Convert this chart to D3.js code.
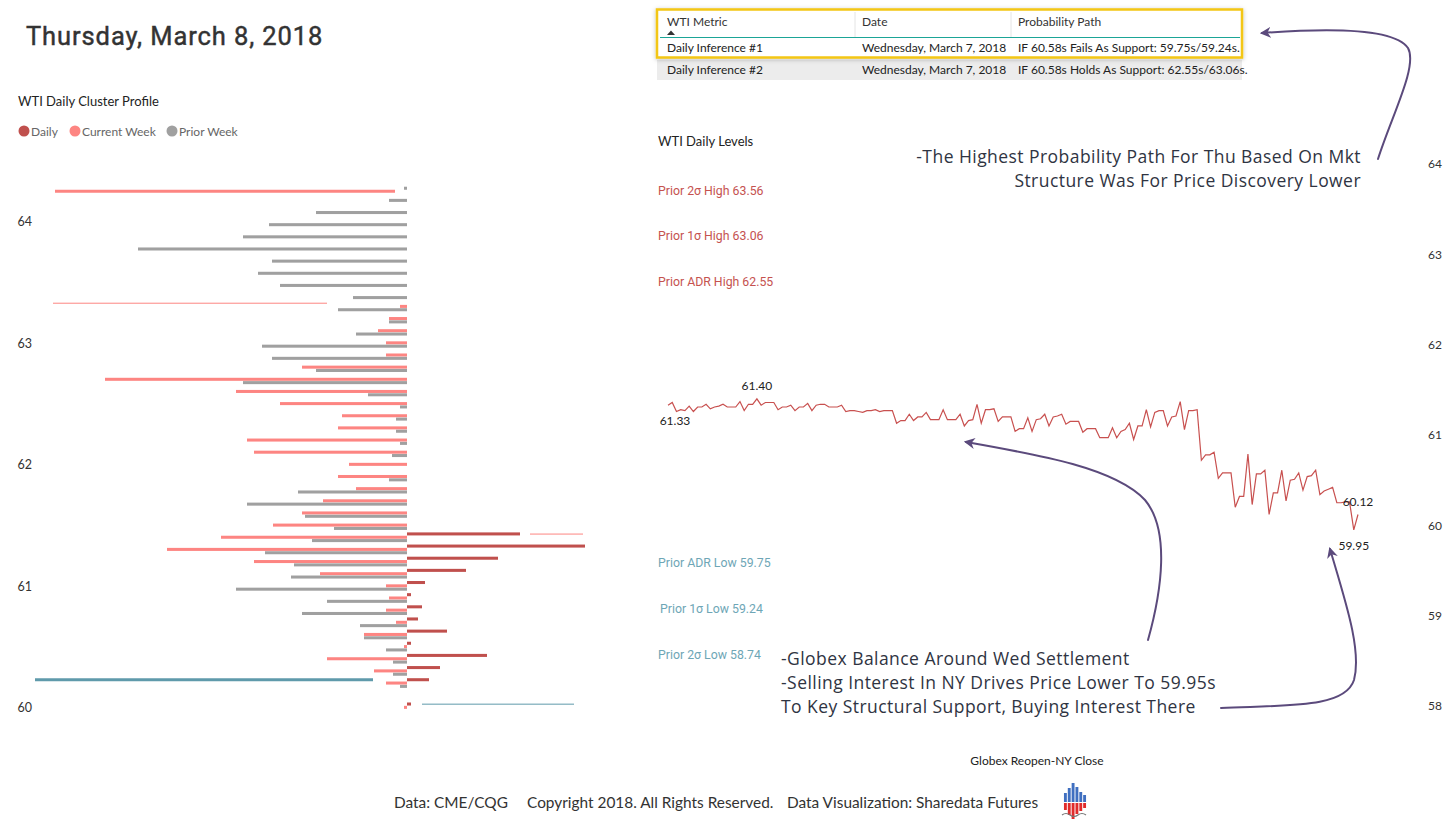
<!DOCTYPE html>
<html>
<head>
<meta charset="utf-8">
<script src="https://cdn.jsdelivr.net/npm/d3@7"></script>
<style>
  body { margin: 0; background: #fff; }
  svg text { font-family: Lato, "Noto Sans", sans-serif; }
  .din { font-family: Roboto, "DejaVu Sans", sans-serif; }
  .note { font-family: "Open Sans", "DejaVu Sans", sans-serif; }
</style>
</head>
<body>
<svg id="chart" width="1456" height="826"></svg>
<script>
// ---- Cluster profile (price rows, volumes in arbitrary units) ----
var profileLevels = [64.3, 64.2, 64.1, 64.0, 63.9, 63.8, 63.7, 63.6, 63.5, 63.4, 63.3,
  63.2, 63.1, 63.0, 62.9, 62.8, 62.7, 62.6, 62.5, 62.4, 62.3, 62.2, 62.1, 62.0,
  61.9, 61.8, 61.7, 61.6, 61.5, 61.4, 61.3, 61.2, 61.1, 61.0, 60.9, 60.8, 60.7,
  60.6, 60.5, 60.4, 60.3, 60.2, 60.1, 60.0]
var dailyVol = [0, 0, 0, 0, 0, 0, 0, 0, 0, 0, 0,
  0, 0, 0, 0, 0, 0, 0, 0, 0, 0, 0, 0, 0,
  0, 0, 0, 0, 0, 113, 178, 91, 59, 18, 4, 15, 11,
  40, 4, 80, 33, 22, 0, 4]
var currentWeekVol = [0, 0, 0, 0, 0, 0, 0, 0, 0, 0, 7,
  18, 29, 21, 21, 105, 302, 171, 127, 65, 69, 160, 153, 58,
  69, 51, 84, 105, 134, 186, 240, 153, 87, 21, 18, 21, 11,
  43, 3, 80, 33, 21, 0, 3]
var priorWeekVol = [3, 18, 91, 138, 164, 269, 135, 149, 127, 54, 69,
  18, 51, 145, 135, 91, 164, 39, 7, 11, 11, 7, 15, 0,
  18, 109, 160, 102, 73, 95, 142, 113, 116, 171, 80, 105, 47,
  43, 21, 14, 14, 7, 0, 0]
var profileTicks = [60, 61, 62, 63, 64]
var seriesKeys = ["daily", "current", "prior"]
var seriesNames = ["Daily", "Current Week", "Prior Week"]

// reference marks drawn on the profile (price row, slot, from, to)
var markerPrice = [64.25, 63.3, 60.2, 60.0, 61.4]
var markerSlot = ["current", "daily", "daily", "daily", "daily"]
var markerFrom = [-352, -354, -372, 15, 123]
var markerTo = [-12, -80, -34, 167, 176]
var markerKind = ["current", "current", "blue", "blue", "current"]
var markerWidth = [3, 1, 3, 1, 1]

// ---- Daily levels ----
var levelNames = ["Prior 2σ High", "Prior 1σ High", "Prior ADR High",
  "Prior ADR Low", "Prior 1σ Low", "Prior 2σ Low"]
var levelValues = [63.56, 63.06, 62.55, 59.75, 59.24, 58.74]
var priceTicks = [58, 59, 60, 61, 62, 63, 64]

// ---- Globex reopen - NY close price path ----
var wtiPrices = [61.33, 61.36, 61.26, 61.28, 61.27, 61.32, 61.26, 61.31, 61.31, 61.34,
  61.29, 61.31, 61.32, 61.34, 61.31, 61.31, 61.31, 61.37, 61.27, 61.34,
  61.34, 61.40, 61.33, 61.36, 61.36, 61.36, 61.28, 61.31, 61.31, 61.33,
  61.27, 61.31, 61.31, 61.35, 61.27, 61.33, 61.34, 61.34, 61.31, 61.31,
  61.31, 61.33, 61.26, 61.27, 61.27, 61.26, 61.25, 61.27, 61.27, 61.28,
  61.26, 61.27, 61.27, 61.27, 61.13, 61.16, 61.16, 61.23, 61.16, 61.20,
  61.20, 61.25, 61.17, 61.17, 61.17, 61.28, 61.17, 61.17, 61.17, 61.23,
  61.10, 61.16, 61.17, 61.34, 61.13, 61.28, 61.28, 61.29, 61.15, 61.20,
  61.20, 61.20, 61.04, 61.07, 61.07, 61.19, 61.04, 61.17, 61.18, 61.23,
  61.10, 61.20, 61.21, 61.23, 61.12, 61.15, 61.15, 61.15, 61.03, 61.07,
  61.07, 61.07, 60.97, 60.97, 60.97, 61.08, 60.97, 61.04, 61.06, 61.13,
  60.95, 61.10, 61.10, 61.28, 61.09, 61.25, 61.27, 61.27, 61.10, 61.20,
  61.21, 61.37, 61.06, 61.27, 61.27, 61.28, 60.72, 60.78, 60.78, 60.81,
  60.52, 60.58, 60.58, 60.58, 60.20, 60.32, 60.32, 60.79, 60.23, 60.57,
  60.57, 60.61, 60.12, 60.36, 60.36, 60.61, 60.27, 60.50, 60.51, 60.58,
  60.39, 60.54, 60.55, 60.61, 60.34, 60.38, 60.40, 60.42, 60.25, 60.25,
  60.26, 60.26, 59.95, 60.12]

// ---- Table ----
var tableColumns = ["WTI Metric", "Date", "Probability Path"]
var tableRows = [
  ["Daily Inference #1", "Wednesday, March 7, 2018", "IF 60.58s Fails As Support: 59.75s/59.24s."],
  ["Daily Inference #2", "Wednesday, March 7, 2018", "IF 60.58s Holds As Support: 62.55s/63.06s."]
]

// ---- Notes ----
var topNote = ["-The Highest Probability Path For Thu Based On Mkt",
  "Structure Was For Price Discovery Lower"]
var bottomNote = ["-Globex Balance Around Wed Settlement",
  "-Selling Interest In NY Drives Price Lower To 59.95s",
  "To Key Structural Support, Buying Interest There"]
var footerItems = ["Data: CME/CQG", "Copyright 2018. All Rights Reserved.",
  "Data Visualization: Sharedata Futures"]
var logoBlue = [9, 14, 19, 15, 10, 7]
var logoRed = [7, 12, 16, 11, 8, 5]

var svg = d3.select("#chart")

var color = d3.scaleOrdinal()
  .domain(seriesKeys.concat(["blue"]))
  .range(["#c0504d", "#fd8582", "#a0a0a0", "#5f9aab"])

// Title
svg.append("text")
  .attr("class", "din")
  .attr("x", 26).attr("y", 45)
  .attr("font-size", 25.5)
  .attr("fill", "#333")
  .attr("stroke", "#333").attr("stroke-width", 0.45)
  .attr("letter-spacing", 0.9)
  .text("Thursday, March 8, 2018")

// ================= Cluster profile =================
svg.append("text")
  .attr("x", 18).attr("y", 106)
  .attr("font-size", 13).attr("fill", "#222")
  .text("WTI Daily Cluster Profile")

var legend = svg.append("g").attr("transform", "translate(18,131)")
var legX = [0, 51, 148]
seriesKeys.forEach(function (k, i) {
  var g = legend.append("g").attr("transform", "translate(" + legX[i] + ",0)")
  g.append("circle").attr("cx", 6).attr("cy", 0).attr("r", 5.5).attr("fill", color(k))
  g.append("text").attr("x", 13).attr("y", 4.5)
    .attr("font-size", 12).attr("fill", "#666").text(seriesNames[i])
})

var xP = d3.scaleLinear().domain([-400, 200]).range([7, 607])
var yP = d3.scaleLinear().domain([60, 64]).range([707.5, 221.5])
var slot = d3.scaleBand().domain(seriesKeys).range([-5, 5])

var bars = []
profileLevels.forEach(function (p, i) {
  bars.push({ price: p, key: "daily", value: dailyVol[i] })
  bars.push({ price: p, key: "current", value: -currentWeekVol[i] })
  bars.push({ price: p, key: "prior", value: -priorWeekVol[i] })
})

svg.append("g").selectAll("rect")
  .data(bars.filter(function (d) { return d.value !== 0 }))
  .enter()
  .append("rect")
  .attr("x", function (d) { return xP(Math.min(0, d.value)) })
  .attr("width", function (d) { return Math.abs(xP(d.value) - xP(0)) })
  .attr("y", function (d) { return yP(d.price) + slot(d.key) })
  .attr("height", slot.bandwidth() - 0.3)
  .attr("fill", function (d) { return color(d.key) })

// reference marks
var marks = markerPrice.map(function (p, i) {
  return { price: p, slot: markerSlot[i], from: markerFrom[i], to: markerTo[i],
    kind: markerKind[i], w: markerWidth[i] }
})
svg.append("g").selectAll("line")
  .data(marks)
  .enter()
  .append("line")
  .attr("x1", function (d) { return xP(d.from) })
  .attr("x2", function (d) { return xP(d.to) })
  .attr("y1", function (d) { return yP(d.price) + slot(d.slot) + slot.bandwidth() / 2 })
  .attr("y2", function (d) { return yP(d.price) + slot(d.slot) + slot.bandwidth() / 2 })
  .attr("stroke", function (d) { return color(d.kind) })
  .attr("stroke-width", function (d) { return d.w })

var leftAxis = svg.append("g")
  .attr("transform", "translate(32,0)")
  .call(d3.axisLeft(yP).tickValues(profileTicks).tickFormat(d3.format("d")).tickSize(0).tickPadding(0))
leftAxis.select(".domain").remove()
leftAxis.selectAll("text").attr("font-size", 12.5).attr("fill", "#333")
  .attr("font-family", "Lato, sans-serif")

// ================= Table =================
var colX = [660, 855, 1011, 1241]
var table = svg.append("g")

var defs = svg.append("defs")
var shadow = defs.append("filter").attr("id", "shadow")
  .attr("x", "-5%").attr("y", "-20%").attr("width", "110%").attr("height", "150%")
shadow.append("feDropShadow").attr("dx", 0).attr("dy", 1).attr("stdDeviation", 2)
  .attr("flood-color", "#000").attr("flood-opacity", 0.25)

table.append("rect")
  .attr("x", 657).attr("y", 60).attr("width", 585).attr("height", 20)
  .attr("fill", "#ececec")
table.append("rect")
  .attr("x", 657).attr("y", 9.5).attr("width", 585).attr("height", 48)
  .attr("fill", "#fff").attr("stroke", "#f3c613").attr("stroke-width", 2.5)
  .attr("filter", "url(#shadow)")
table.selectAll(".sep")
  .data(colX.slice(1, 3))
  .enter().append("line")
  .attr("x1", function (d) { return d }).attr("x2", function (d) { return d })
  .attr("y1", 12).attr("y2", 37)
  .attr("stroke", "#e4e4e4")
table.append("line")
  .attr("x1", 660).attr("x2", 1240).attr("y1", 37.5).attr("y2", 37.5)
  .attr("stroke", "#1ba597").attr("stroke-width", 1)

table.selectAll(".head")
  .data(tableColumns)
  .enter().append("text")
  .attr("x", function (d, i) { return colX[i] + 7 })
  .attr("y", 26)
  .attr("font-size", 12).attr("fill", "#333")
  .text(function (d) { return d })
table.append("path")
  .attr("d", "M667,35 L671,30.5 L675,35 Z").attr("fill", "#333")

tableRows.forEach(function (row, r) {
  table.selectAll(".row" + r)
    .data(row)
    .enter().append("text")
    .attr("x", function (d, i) { return colX[i] + 7 })
    .attr("y", 52 + r * 22)
    .attr("font-size", 12).attr("fill", "#222")
    .text(function (d) { return d })
})

// ================= Daily levels / price path =================
var xL = d3.scaleLinear().domain([0, wtiPrices.length - 1]).range([668, 1358])
var yR = d3.scaleLinear().domain([58, 64]).range([706, 164])

svg.append("text")
  .attr("x", 658).attr("y", 146)
  .attr("font-size", 13).attr("fill", "#222")
  .text("WTI Daily Levels")

svg.append("g").selectAll("text")
  .data(levelValues)
  .enter().append("text")
  .attr("class", "din")
  .attr("x", function (d, i) { return i === 4 ? 660 : 658 })
  .attr("y", function (d, i) { return yR(d) + (i < 3 ? -8.5 : 19.5) })
  .attr("font-size", 12.3)
  .attr("fill", function (d, i) { return i < 3 ? "#c5524f" : "#6ea6b6" })
  .text(function (d, i) { return levelNames[i] + " " + d3.format(".2f")(d) })

var rightAxis = svg.append("g")
  .attr("transform", "translate(1428,0)")
  .call(d3.axisRight(yR).tickValues(priceTicks).tickFormat(d3.format("d")).tickSize(0).tickPadding(0))
rightAxis.select(".domain").remove()
rightAxis.selectAll("text").attr("font-size", 12).attr("fill", "#333")
  .attr("font-family", "Lato, sans-serif")

var line = d3.line()
  .x(function (d, i) { return xL(i) })
  .y(function (d) { return yR(d) })

svg.append("path")
  .datum(wtiPrices)
  .attr("d", line)
  .attr("fill", "none")
  .attr("stroke", "#c8504f")
  .attr("stroke-width", 1.2)
  .attr("stroke-linejoin", "miter")

// point labels: first, max, last, min
var n = wtiPrices.length
var iMax = d3.maxIndex(wtiPrices)
var iMin = d3.minIndex(wtiPrices)
var pointLabels = [
  { i: 0, dx: 7, dy: 20 },
  { i: iMax, dx: 0, dy: -9 },
  { i: n - 1, dx: 0, dy: -8 },
  { i: iMin, dx: 0, dy: 20 }
]
svg.append("g").selectAll("text")
  .data(pointLabels)
  .enter().append("text")
  .attr("x", function (d) { return xL(d.i) + d.dx })
  .attr("y", function (d) { return yR(wtiPrices[d.i]) + d.dy })
  .attr("text-anchor", "middle")
  .attr("font-size", 12).attr("fill", "#222")
  .text(function (d) { return d3.format(".2f")(wtiPrices[d.i]) })

svg.append("text")
  .attr("x", 1037).attr("y", 765)
  .attr("text-anchor", "middle")
  .attr("font-size", 12).attr("fill", "#222")
  .text("Globex Reopen-NY Close")

// ================= Notes & arrows =================
defs.append("marker")
  .attr("id", "arrow")
  .attr("viewBox", "0 0 10 10")
  .attr("refX", 8).attr("refY", 5)
  .attr("markerWidth", 5.5).attr("markerHeight", 5.5)
  .attr("orient", "auto-start-reverse")
  .append("path")
  .attr("d", "M0,0 L10,5 L0,10 L3,5 Z")
  .attr("fill", "#5b4a7c")

svg.append("g").selectAll("text")
  .data(topNote)
  .enter().append("text")
  .attr("class", "note")
  .attr("x", 1361)
  .attr("y", function (d, i) { return 163 + i * 24 })
  .attr("text-anchor", "end")
  .attr("font-size", 17.5).attr("letter-spacing", 0.45).attr("fill", "#2f3442")
  .text(function (d) { return d })

svg.append("g").selectAll("text")
  .data(bottomNote)
  .enter().append("text")
  .attr("class", "note")
  .attr("x", 781)
  .attr("y", function (d, i) { return 665 + i * 24 })
  .attr("font-size", 17.5).attr("letter-spacing", 0.45).attr("fill", "#2f3442")
  .text(function (d) { return d })

var arrows = [
  "M1378,159 C1392,115 1418,66 1408,48 C1396,30 1340,27 1262,33",
  "M1148,640 C1162,590 1170,530 1145,500 C1115,468 1040,455 966,442",
  "M1221,708 C1290,705 1345,708 1354,680 C1362,650 1345,600 1330,549"
]
svg.append("g").selectAll("path")
  .data(arrows)
  .enter().append("path")
  .attr("d", function (d) { return d })
  .attr("fill", "none")
  .attr("stroke", "#5b4a7c")
  .attr("stroke-width", 2)
  .attr("stroke-linecap", "round")
  .attr("marker-end", "url(#arrow)")

// ================= Footer =================
var footX = [394, 527, 787]
svg.append("g").selectAll("text")
  .data(footerItems)
  .enter().append("text")
  .attr("x", function (d, i) { return footX[i] })
  .attr("y", 808)
  .attr("font-size", 15.4).attr("fill", "#333")
  .text(function (d) { return d })

// logo
var logo = svg.append("g").attr("transform", "translate(1063,802)")
var lx = d3.scaleBand().domain(d3.range(logoBlue.length)).range([0, 24]).padding(0.25)
logo.selectAll(".b").data(logoBlue).enter().append("rect")
  .attr("x", function (d, i) { return lx(i) }).attr("width", lx.bandwidth())
  .attr("y", function (d) { return -d }).attr("height", function (d) { return d })
  .attr("fill", "#3f6fc0")
logo.selectAll(".r").data(logoRed).enter().append("rect")
  .attr("x", function (d, i) { return lx(i) }).attr("width", lx.bandwidth())
  .attr("y", 1).attr("height", function (d) { return d })
  .attr("fill", "#e02b2b")
logo.append("path")
  .attr("d", "M-1,13 Q3,10 7,13 T15,13 T23,13")
  .attr("fill", "none").attr("stroke", "#777").attr("stroke-width", 1.2)
</script>
</body>
</html>
